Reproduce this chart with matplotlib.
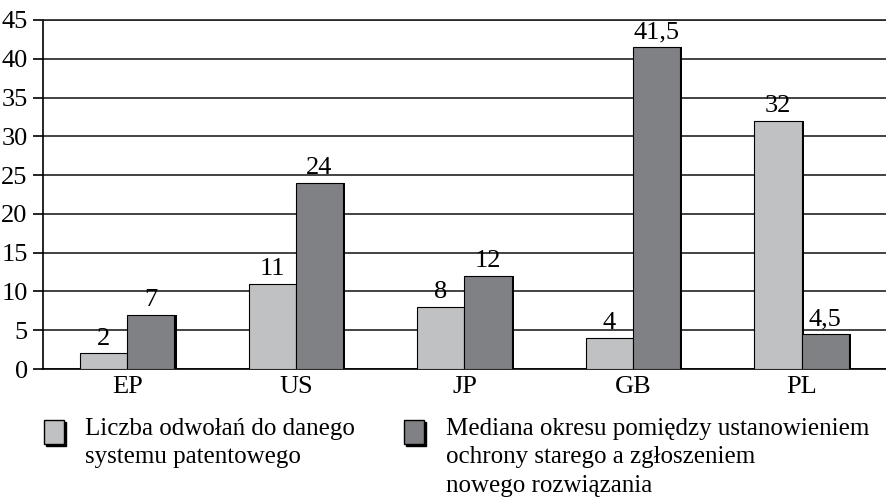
import matplotlib.pyplot as plt
from matplotlib.patches import Rectangle
import numpy as np

kraje = ['EP', 'US', 'JP', 'GB', 'PL']
odwolania = [2, 11, 8, 4, 32]
mediana = [7, 24, 12, 41.5, 4.5]
etykiety = ['Liczba odwołań do danego\nsystemu patentowego',
            'Mediana okresu pomiędzy ustanowieniem\nochrony starego a zgłoszeniem\nnowego rozwiązania']

jasny = '#c0c1c3'
ciemny = '#808184'

plt.rcParams['font.family'] = ['Liberation Serif', 'DejaVu Serif']
plt.rcParams['font.size'] = 19

fig = plt.figure(figsize=(8.86, 5), dpi=100)
ax = fig.add_axes([0.0485, 0.262, 0.9515, 0.698])

x = np.arange(len(kraje))
w = 0.28
cien = 0.012

# cien pod slupkami (ciemna krawedz z prawej strony)
ax.bar(x - w / 2 + cien, odwolania, w, color='black', zorder=2)
ax.bar(x + w / 2 + cien, mediana, w, color='black', zorder=2)
b1 = ax.bar(x - w / 2, odwolania, w, color=jasny, edgecolor='black', linewidth=0.8, zorder=3)
b2 = ax.bar(x + w / 2, mediana, w, color=ciemny, edgecolor='black', linewidth=0.8, zorder=3)

for rects, vals in ((b1, odwolania), (b2, mediana)):
    for r, v in zip(rects, vals):
        txt = str(v).replace('.', ',')
        ax.text(r.get_x() + r.get_width() / 2, v + 0.5, txt,
                ha='center', va='bottom', fontsize=19)

ax.set_xlim(-0.5, len(kraje) - 0.5)
ax.set_ylim(0, 45)
ax.set_yticks(range(0, 46, 5))
ax.set_xticks(x)
ax.set_xticklabels(kraje)
ax.yaxis.grid(True, color='#222222', linewidth=1.2, zorder=0)
ax.set_axisbelow(True)
ax.tick_params(axis='x', length=0, pad=5)
ax.tick_params(axis='y', length=7, width=1.2, pad=4)
ax.spines['right'].set_visible(False)
ax.spines['top'].set_color('#222222')
for s in ('left', 'bottom', 'top'):
    ax.spines[s].set_linewidth(1.2)

# legenda rysowana recznie: kwadrat z cieniem + opis
legenda = [(0.0497, 0.096, jasny, etykiety[0]), (0.456, 0.503, ciemny, etykiety[1])]
for xk, xt, kolor, opis in legenda:
    fig.patches.append(Rectangle((xk + 0.0025, 0.108), 0.0226, 0.048, transform=fig.transFigure,
                                 facecolor='black', edgecolor='black'))
    fig.patches.append(Rectangle((xk, 0.112), 0.0226, 0.048, transform=fig.transFigure,
                                 facecolor=kolor, edgecolor='black', linewidth=1))
    fig.text(xt, 0.164, opis, ha='left', va='top', fontsize=18, linespacing=1.37)

fig.savefig('out.png', dpi=100)
